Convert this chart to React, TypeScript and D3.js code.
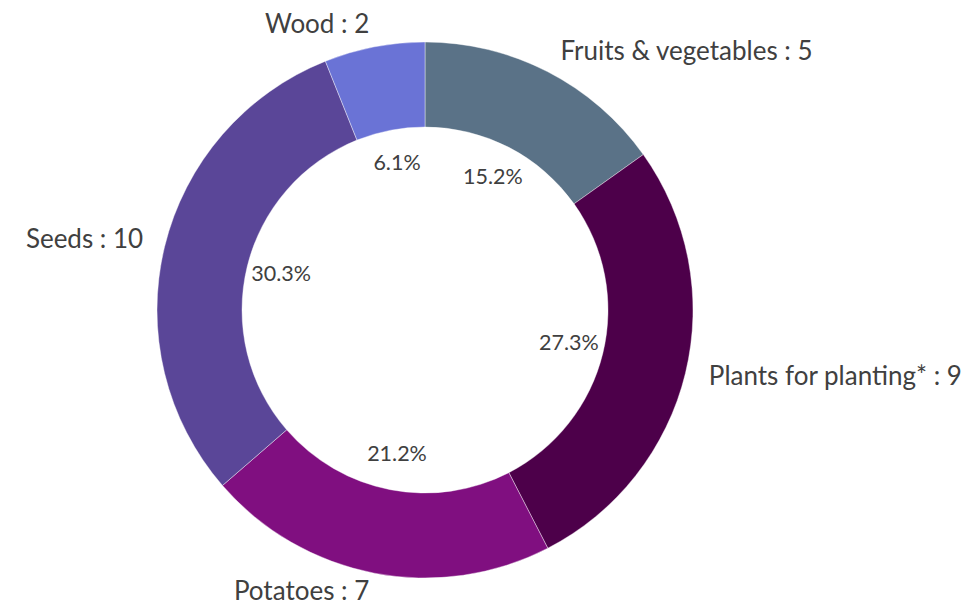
import * as d3 from "d3";

const categories = ["Fruits & vegetables", "Plants for planting*", "Potatoes", "Seeds", "Wood"];
const values = [5, 9, 7, 10, 2];
const colors = ["#5a7287", "#4d004a", "#800f80", "#5a4698", "#6a73d6"];

const WIDTH = 977;
const HEIGHT = 605;
const CX = 425;
const CY = 310;
const OUTER = 268;
const INNER = 183;
const LABEL_R = 289;
const PCT_R = 148;

type Slice = { name: string; value: number; color: string };

export default function App() {
  const data: Slice[] = categories.map((name, i) => ({ name, value: values[i], color: colors[i] }));
  const total = d3.sum(values);

  const pie = d3.pie<Slice>().value((d) => d.value).sort(null);
  const arcs = pie(data);
  const arcGen = d3.arc<d3.PieArcDatum<Slice>>().innerRadius(INNER).outerRadius(OUTER);
  const fmt = d3.format(".1%");

  return (
    <svg
      width={WIDTH}
      height={HEIGHT}
      style={{ position: "absolute", left: 0, top: 0, background: "#fff" }}
      fontFamily="Lato, 'Open Sans', sans-serif"
    >
      <g transform={`translate(${CX},${CY})`}>
        {arcs.map((a) => (
          <path key={a.data.name} d={arcGen(a) || ""} fill={a.data.color} stroke="#fff" strokeOpacity={0.5} strokeWidth={0.8} />
        ))}
        {arcs.map((a) => {
          const mid = (a.startAngle + a.endAngle) / 2;
          const sx = Math.sin(mid);
          const sy = -Math.cos(mid);
          return (
            <g key={"l" + a.data.name}>
              <text
                x={sx * LABEL_R + (sx >= 0 ? 3 : -1)}
                y={sy * LABEL_R}
                dominantBaseline="middle"
                textAnchor={sx >= 0 ? "start" : "end"}
                fontSize={26}
                fill="#404040"
              >
                {`${a.data.name} : ${a.data.value}`}
              </text>
              <text
                x={sx * PCT_R}
                y={sy * PCT_R}
                dominantBaseline="middle"
                textAnchor="middle"
                fontSize={21.5}
                fill="#404040"
              >
                {fmt(a.data.value / total)}
              </text>
            </g>
          );
        })}
      </g>
    </svg>
  );
}
